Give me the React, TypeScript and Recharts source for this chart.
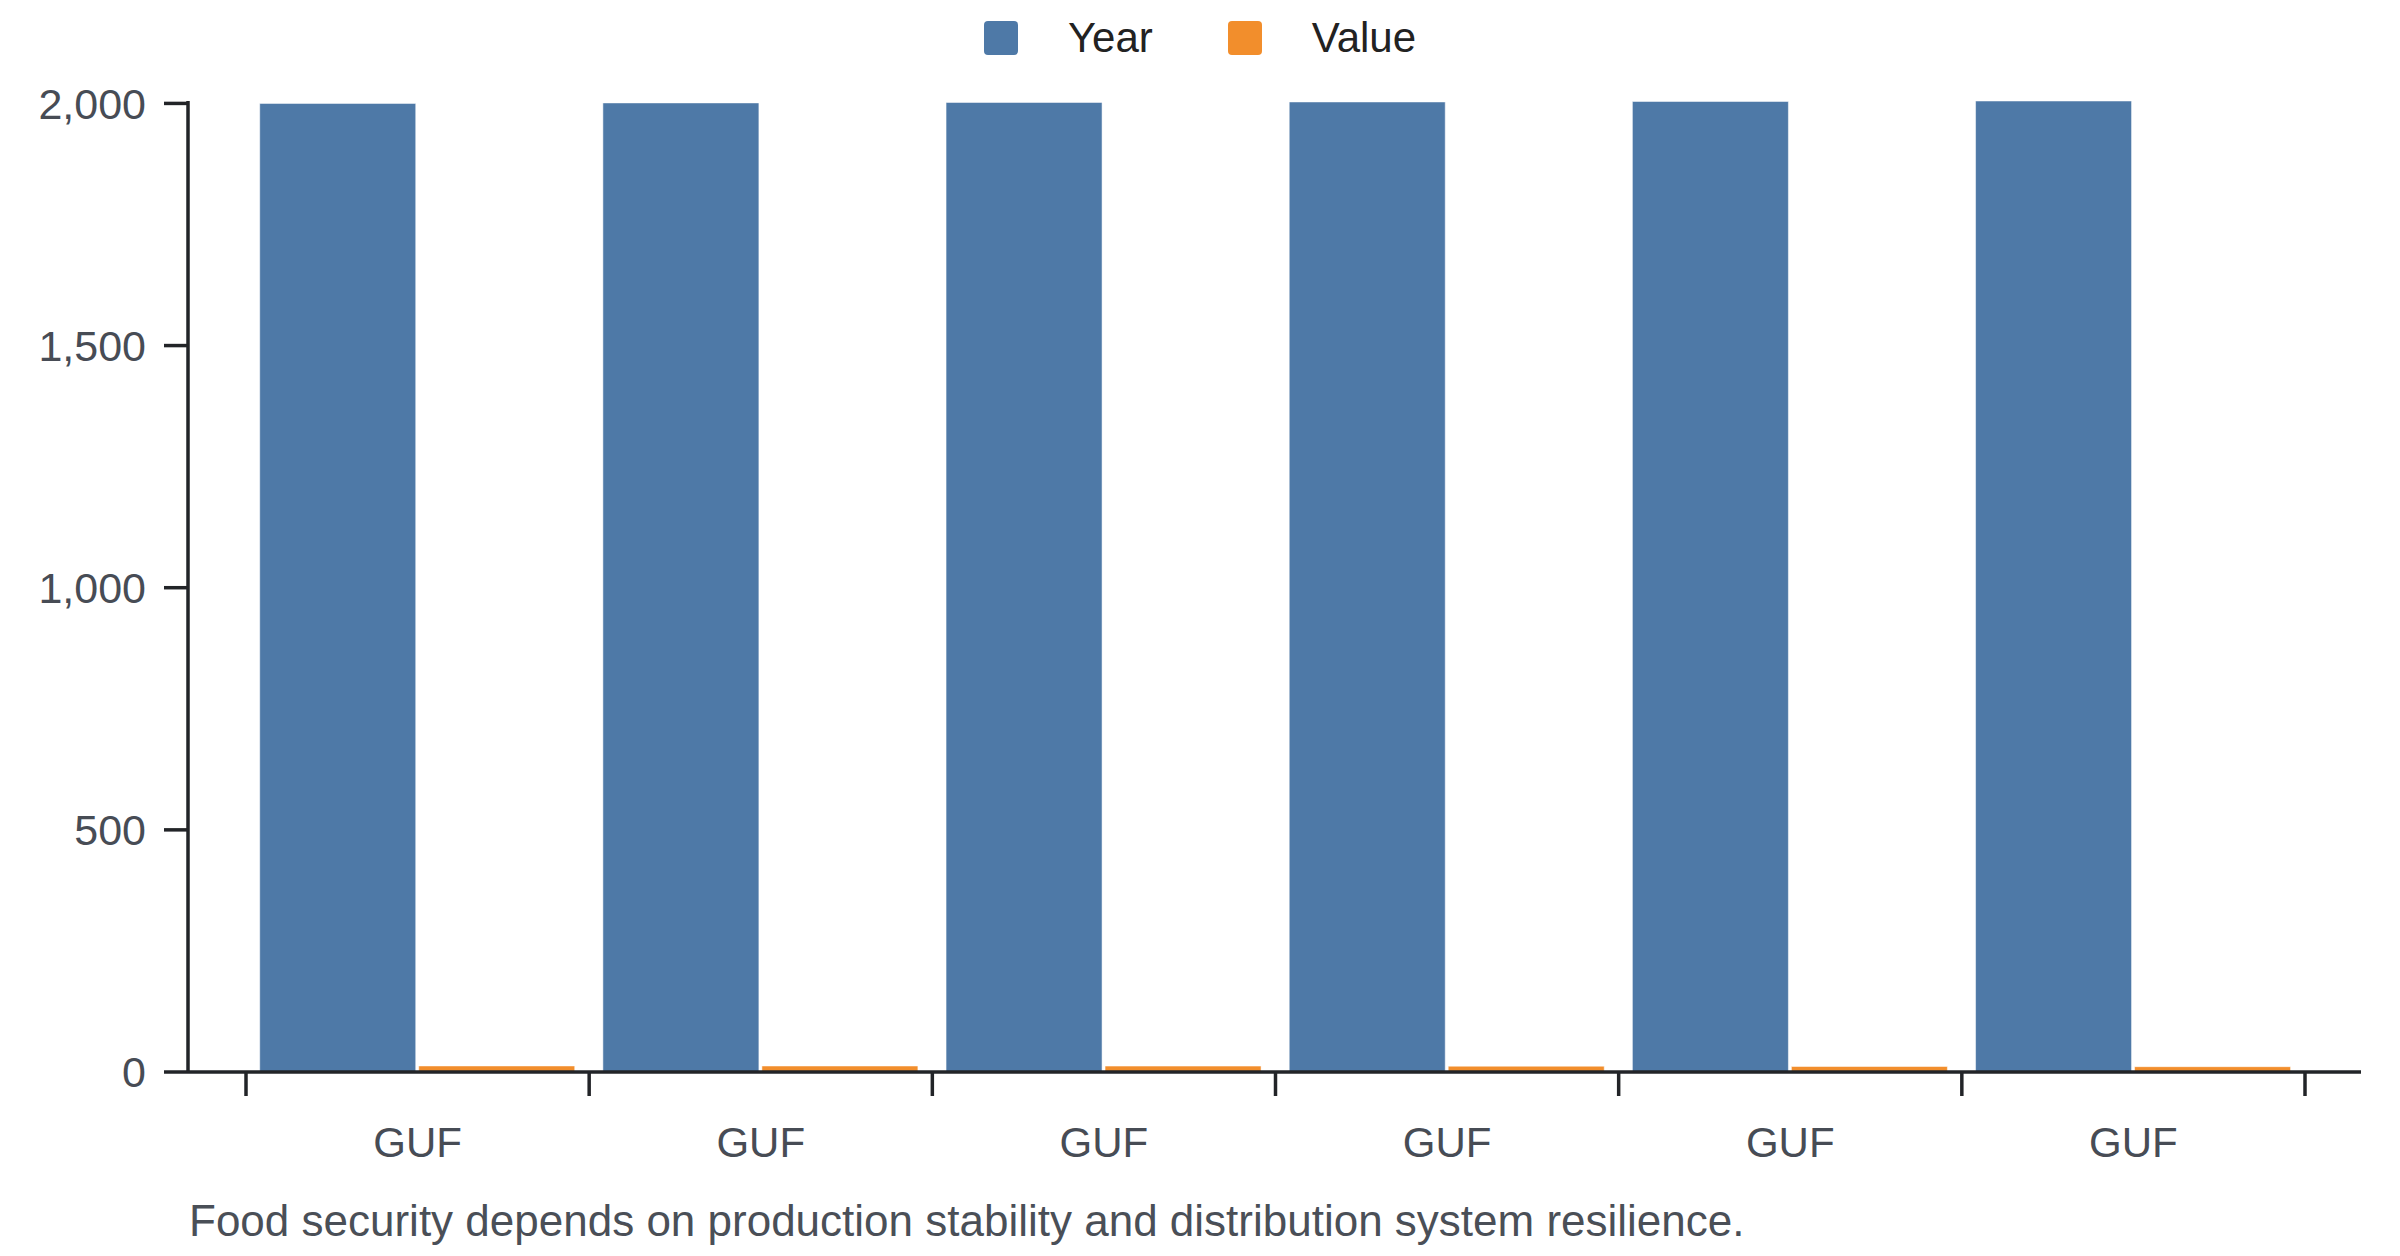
import React from "react";
import { BarChart, Bar, XAxis, YAxis } from "recharts";

const categories = ["GUF", "GUF", "GUF", "GUF", "GUF", "GUF"];
const yearValues = [2000, 2001, 2002, 2003, 2004, 2005];
const valueValues = [12.5, 12.4, 12.2, 12.0, 11.3, 11.0];
const yTicks = [0, 500, 1000, 1500, 2000];

const FONT = '"Liberation Sans", Arial, Helvetica, sans-serif';
const BLUE = "#4e79a7";
const ORANGE = "#f28e2c";
const AXIS = "#222428";

// bars sit on a numeric x axis at the centre of each category slot
const data = categories.map((c, i) => ({
  name: c,
  pos: i + 0.5,
  Year: yearValues[i],
  Value: valueValues[i],
}));

// tick marks on slot edges, labels on slot centres
const xTicks = [...categories.map((_, i) => i), categories.length, ...categories.map((_, i) => i + 0.5)].sort(
  (a, b) => a - b
);

const XTick = (props: any) => {
  const { x, y, payload } = props;
  const v = payload.value;
  if (Number.isInteger(v)) {
    return <line x1={x} x2={x} y1={y} y2={y + 24} stroke={AXIS} strokeWidth={3.5} />;
  }
  return (
    <text x={x} y={y + 55} dy="0.71em" textAnchor="middle" fontSize={42} fontFamily={FONT} fill="#474c55">
      {categories[Math.floor(v)]}
    </text>
  );
};

const LegendItem = ({ color, label }: { color: string; label: string }) => (
  <div style={{ display: "flex", alignItems: "center" }}>
    <div style={{ width: 34, height: 34, background: color, borderRadius: 4 }} />
    <span style={{ marginLeft: 50, fontSize: 42, color: "#222" }}>{label}</span>
  </div>
);

export default function App() {
  return (
    <div style={{ position: "absolute", left: 0, top: 0, width: 2400, height: 1256, background: "#fff", fontFamily: FONT }}>
      <div
        style={{
          position: "absolute",
          top: 16,
          left: 0,
          width: 2400,
          display: "flex",
          justifyContent: "center",
          gap: 75,
          lineHeight: "44px",
        }}
      >
        <LegendItem color={BLUE} label="Year" />
        <LegendItem color={ORANGE} label="Value" />
      </div>

      <BarChart
        width={2400}
        height={1256}
        data={data}
        margin={{ top: 101, right: 39, left: 0, bottom: 0 }}
        barCategoryGap="4%"
        barGap={3}
      >
        <XAxis
          dataKey="pos"
          type="number"
          domain={[0, categories.length]}
          ticks={xTicks}
          interval={0}
          padding={{ left: 58, right: 56 }}
          height={184}
          tickSize={0}
          tickMargin={0}
          tickLine={false}
          axisLine={{ stroke: AXIS, strokeWidth: 3.5 }}
          tick={<XTick />}
        />
        <YAxis
          type="number"
          domain={[0, "dataMax"]}
          ticks={yTicks}
          width={188}
          tickSize={24}
          tickMargin={18}
          tickFormatter={(v: number) => v.toLocaleString("en-US")}
          tick={{ fontSize: 43, fontFamily: FONT, fill: "#474c55" }}
          axisLine={{ stroke: AXIS, strokeWidth: 3.5 }}
          tickLine={{ stroke: AXIS, strokeWidth: 3.5 }}
        />
        <Bar dataKey="Year" fill={BLUE} stroke="#ffffff" strokeOpacity={0.5} strokeWidth={1} isAnimationActive={false} />
        <Bar dataKey="Value" fill={ORANGE} stroke="#ffffff" strokeOpacity={0.5} strokeWidth={1} isAnimationActive={false} />
      </BarChart>

      <div
        style={{
          position: "absolute",
          left: 189,
          top: 1199,
          fontSize: 44,
          lineHeight: "44px",
          color: "#4a4f57",
          whiteSpace: "nowrap",
        }}
      >
        Food security depends on production stability and distribution system resilience.
      </div>
    </div>
  );
}
